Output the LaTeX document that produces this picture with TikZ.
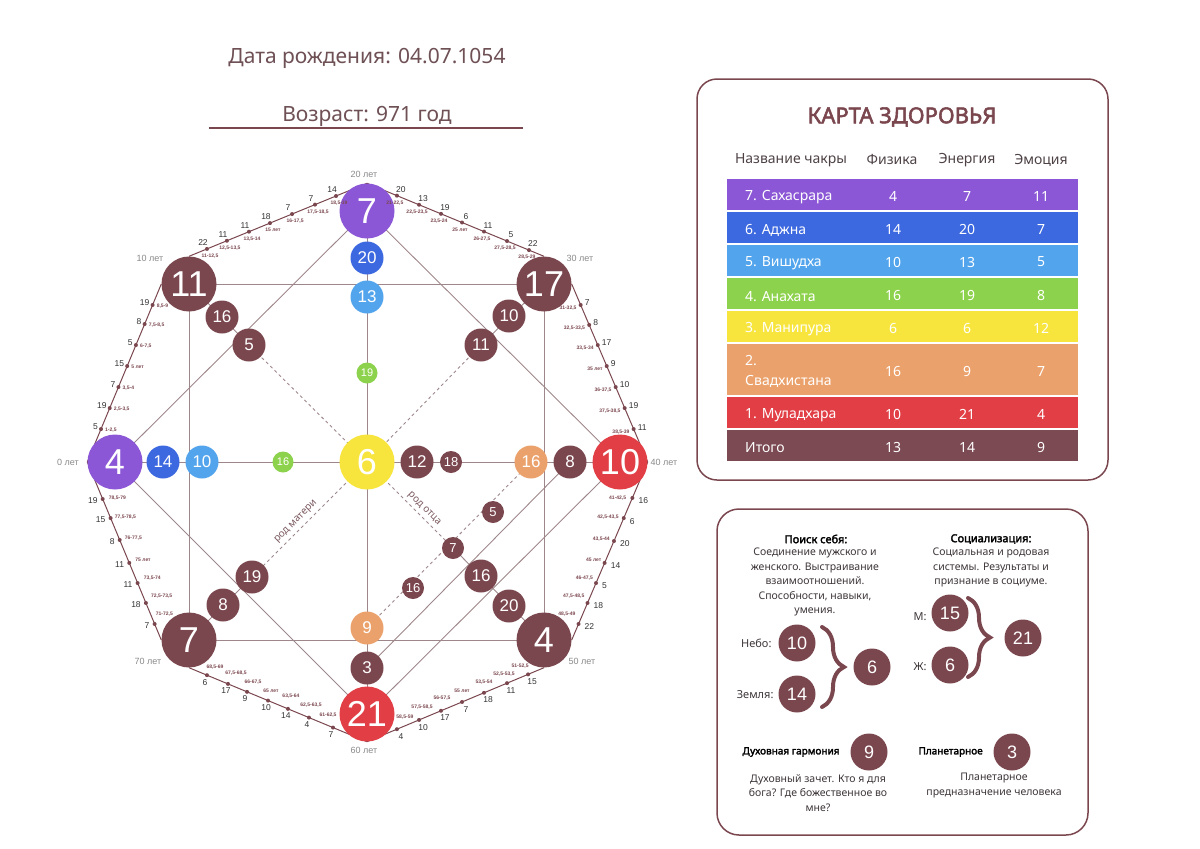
\documentclass[tikz,border=0pt]{standalone}
\usepackage{fontspec}
\setmainfont{Noto Sans}[AutoFakeBold=2.5]
\newfontfamily\numf{Liberation Sans}
\usetikzlibrary{calc,backgrounds,decorations.pathreplacing}
\definecolor{brn}{HTML}{7B474F}
\definecolor{lc}{HTML}{9E878B}
\definecolor{cpur}{HTML}{8B57D6}
\definecolor{cblu}{HTML}{3C68E0}
\definecolor{clbl}{HTML}{52A4EC}
\definecolor{cgrn}{HTML}{8DD24C}
\definecolor{cyel}{HTML}{F7E53E}
\definecolor{corg}{HTML}{EBA16B}
\definecolor{cred}{HTML}{E13E45}
\definecolor{ctot}{HTML}{7B4A52}
\definecolor{numc}{HTML}{333333}
\definecolor{agec}{HTML}{8A8A8A}
\definecolor{txtc}{HTML}{3F3739}
\definecolor{hdrc}{HTML}{4E4245}
\definecolor{ttlc}{HTML}{6E5055}
\definecolor{rodc}{HTML}{7B5A60}

% list items: t / number / range / {range shift}
\newcommand\agedots[7]{%
  \foreach \agT/\agN/\agR/\agS [count=\agI] in {#1}{%
    \coordinate (#7p\agI) at ($(#2)!\agT!(#3)$);
    \fill[brn] (#7p\agI) circle (2pt);
    \node[numlab,anchor=#4] (#7n\agI) at ($(#7p\agI)+(#5)$) {\agN};
    \node[rnglab,anchor=#6] (#7r\agI) at ($(#7p\agI)+(\agS)$) {\agR};
  }}

\begin{document}
\begin{tikzpicture}[x=1pt,y=-1pt,
  bigc/.style={circle,inner sep=0pt,minimum size=55pt,text=white,font=\numf\fontsize{36}{36}\selectfont},
  medc/.style={circle,inner sep=0pt,minimum size=33pt,text=white,font=\numf\fontsize{17}{17}\selectfont},
  smlc/.style={circle,inner sep=0pt,minimum size=22pt,text=white,font=\numf\fontsize{13}{13}\selectfont},
  tinyc/.style={circle,inner sep=0pt,minimum size=21pt,text=white,font=\numf\fontsize{11}{11}\selectfont},
  cardc/.style={circle,inner sep=0pt,minimum size=37pt,fill=brn,text=white,font=\numf\fontsize{18}{18}\selectfont},
  solidl/.style={draw=lc,line width=0.9pt},
  dashl/.style={draw=lc,line width=0.9pt,dash pattern=on 3pt off 3pt},
  edgeln/.style={draw=brn,line width=1pt},
  numlab/.style={font=\numf\fontsize{8.5}{8.5}\selectfont,text=numc,inner sep=0pt},
  rnglab/.style={font=\numf\bfseries\fontsize{5}{5}\selectfont,text=brn,inner sep=0pt},
  agelab/.style={font=\numf\fontsize{9}{9}\selectfont,text=agec},
  rodlab/.style={font=\fontsize{10}{10}\selectfont,text=rodc,inner sep=1pt},
  rowbox/.style={minimum width=351pt,inner sep=0pt,draw=none},
  celltxt/.style={font=\fontsize{14}{20}\selectfont,text=white,inner sep=0pt},
  hdrtxt/.style={font=\fontsize{14}{14}\selectfont,text=hdrc},
  bodytxt/.style={font=\fontsize{10.5}{14.5}\selectfont,text=txtc,align=center},
  boldtxt/.style={font=\bfseries\fontsize{11}{14}\selectfont,text=black},
  boldsm/.style={font=\bfseries\fontsize{10}{12}\selectfont,text=black},
  lbltxt/.style={font=\fontsize{11}{11}\selectfont,text=txtc}
]
\useasboundingbox (0,0) rectangle (1200,849);

% ---------- titles
\node[font=\fontsize{21}{21}\selectfont,text=ttlc] (date) at (367,58) {Дата рождения: 04.07.1054};
\node[font=\fontsize{21}{21}\selectfont,text=ttlc] (age) at (367,116) {Возраст: 971 год};
\coordinate (ul1) at (209,128);
\coordinate (ul2) at (523,128);
\draw[brn,line width=1.5pt] (ul1) -- (ul2);

% ---------- circles
\node[bigc,fill=cpur] (c7T) at (367,211) {7};
\node[medc,fill=cblu] (v20) at (367,258) {20};
\node[medc,fill=clbl] (v13) at (367,297) {13};
\node[tinyc,fill=cgrn] (v19) at (367,373) {19};
\node[bigc,fill=cyel] (c6) at (367,462) {6};
\node[medc,fill=corg] (b9) at (367,628) {9};
\node[medc,fill=brn] (b3) at (367,668) {3};
\node[bigc,fill=cred] (c21) at (367,714) {21};
\node[bigc,fill=cpur] (c4L) at (115,462) {4};
\node[medc,fill=cblu] (h14) at (163,462) {14};
\node[medc,fill=clbl] (h10) at (202,462) {10};
\node[tinyc,fill=cgrn] (h16) at (283,462) {16};
\node[medc,fill=brn] (r12) at (417,462) {12};
\node[smlc,fill=brn] (r18) at (451,462) {18};
\node[medc,fill=corg] (r16) at (531,462) {16};
\node[medc,fill=brn] (r8) at (570,462) {8};
\node[bigc,fill=cred] (c10R) at (620,462) {10};
\node[bigc,fill=brn] (c11) at (189,284) {11};
\node[medc,fill=brn] (d16) at (222,317) {16};
\node[medc,fill=brn] (d5) at (249,345) {5};
\node[bigc,fill=brn] (c17) at (544,284) {17};
\node[medc,fill=brn] (d10) at (509,316) {10};
\node[medc,fill=brn] (d11) at (481,345) {11};
\node[bigc,fill=brn] (c7B) at (189,640) {7};
\node[medc,fill=brn] (d8) at (223,605) {8};
\node[medc,fill=brn] (d19) at (252,577) {19};
\node[bigc,fill=brn] (c4R) at (544,640) {4};
\node[medc,fill=brn] (d20) at (509,606) {20};
\node[medc,fill=brn] (d16b) at (481,576) {16};
\node[smlc,fill=brn] (s7) at (453,548) {7};
\node[smlc,fill=brn] (s5) at (493,512) {5};
\node[smlc,fill=brn] (s16) at (413,588) {16};

% ---------- lines (behind)
\begin{scope}[on background layer]
  \fill[white] (0,0) rectangle (1200,849);
  \draw[solidl] (c11.center) -- (c17.center) -- (c4R.center) -- (c7B.center) -- cycle;
  \draw[solidl] (c7T.center) -- (c10R.center) -- (c21.center) -- (c4L.center) -- cycle;
  \draw[solidl] (c7T.center) -- (c21.center);
  \draw[solidl] (c4L.center) -- (c10R.center);
  \draw[solidl] (c11.center) -- (d5.center);
  \draw[dashl] (d5.center) -- (c6.center);
  \draw[solidl] (c17.center) -- (d11.center);
  \draw[dashl] (d11.center) -- (c6.center);
  \draw[dashl] (c6.center) -- (d19.center);
  \draw[solidl] (d19.center) -- (c7B.center);
  \draw[dashl] (c6.center) -- (s7.center);
  \draw[solidl] (s7.center) -- (c4R.center);
  \draw[solidl] (b3.center) -- (r8.center);
  \draw[dashl] (b9.center) -- (r16.center);
  % outer octagon
  \draw[edgeln] (c4L.west) -- (c11.west);
  \draw[edgeln] (c11.north) -- (c7T.north);
  \draw[edgeln] (c7T.north) -- (c17.north);
  \draw[edgeln] (c17.east) -- (c10R.east);
  \draw[edgeln] (c10R.east) -- (c4R.east);
  \draw[edgeln] (c4R.south) -- (c21.south);
  \draw[edgeln] (c21.south) -- (c7B.south);
  \draw[edgeln] (c7B.west) -- (c4L.west);
\end{scope}

% ---------- age dots
\agedots{0.185/5/{1-2,5}/{4,1},0.303/19/{2,5-3,5}/{4,1},0.421/7/{3,5-4}/{4,1},0.539/15/{5 лет}/{4,1},0.657/5/{6-7,5}/{4,1},0.775/8/{7,5-8,5}/{4,1},0.882/19/{8,5-9}/{4,1}}{c4L.west}{c11.west}{east}{-3,-2}{west}{ea}
\agedots{0.101/22/{11-12,5}/{3,5},0.213/11/{12,5-13,5}/{3,5},0.337/11/{13,5-14}/{3,5},0.455/18/{15 лет}/{3,5},0.579/7/{16-17,5}/{3,5},0.708/7/{17,5-18,5}/{3,5},0.826/14/{18,5-19}/{3,5}}{c11.north}{c7T.north}{south}{-4,-3}{north}{eb}
\agedots{0.169/20/{21-22,5}/{-2,5},0.294/13/{22,5-23,5}/{-2,5},0.418/19/{23,5-24}/{-2,5},0.537/6/{25 лет}/{-2,5},0.661/11/{26-27,5}/{-2,5},0.791/5/{27,5-28,5}/{-2,5},0.915/22/{28,5-29}/{-2,5}}{c7T.north}{c17.north}{south}{4,-3}{north}{ec}
\agedots{0.118/7/{31-32,5}/{-4,3},0.230/8/{32,5-33,5}/{-4,3},0.343/17/{33,5-34}/{-4,3},0.461/9/{35 лет}/{-4,3},0.579/10/{36-37,5}/{-4,3},0.697/19/{37,5-38,5}/{-4,3},0.815/11/{38,5-39}/{-4,3}}{c17.east}{c10R.east}{west}{4,-2}{east}{ed}
\agedots{0.202/16/{41-42,5}/{-6,0},0.315/6/{42,5-43,5}/{-5,-1},0.444/20/{43,5-44}/{-4,-2},0.567/14/{45 лет}/{-3,-3},0.680/5/{46-47,5}/{-3,-5},0.792/18/{47,5-48,5}/{-3,-7},0.910/22/{48,5-49}/{-3,-10}}{c10R.east}{c4R.east}{west}{6,3}{east}{ee}
\agedots{0.090/15/{51-52,5}/{-8,-6},0.209/11/{52,5-53,5}/{-3,-7},0.339/18/{53,5-54}/{0,-8},0.463/7/{55 лет}/{0,-9},0.582/17/{56-57,5}/{1,-10},0.706/10/{57,5-58,5}/{3,-10},0.831/4/{58,5-59}/{8,-10}}{c4R.south}{c21.south}{north}{4,4}{south}{ef}
\agedots{0.191/7/{61-62,5}/{-5,-10},0.326/4/{62,5-63,5}/{2,-10},0.444/14/{63,5-64}/{3,-10},0.556/10/{65 лет}/{3,-8},0.674/9/{66-67,5}/{6,-7},0.781/17/{67,5-68,5}/{8,-8},0.899/6/{68,5-69}/{8,-6}}{c21.south}{c7B.south}{north}{-2,4}{south}{eg}
\agedots{0.090/7/{71-72,5}/{1,-10},0.208/18/{72,5-73,5}/{5,-7},0.320/11/{73,5-74}/{6,-5},0.433/11/{75 лет}/{6,-3},0.562/8/{76-77,5}/{5,-2},0.685/15/{77,5-78,5}/{4,-1},0.792/19/{78,5-79}/{6,-1}}{c7B.west}{c4L.west}{east}{-5,2}{west}{eh}

% ---------- age labels
\node[agelab] (a0) at (68,462) {0 лет};
\node[agelab] (a10) at (150,258) {10 лет};
\node[agelab] (a20) at (364,174) {20 лет};
\node[agelab] (a30) at (580,258) {30 лет};
\node[agelab] (a40) at (664,462) {40 лет};
\node[agelab] (a50) at (582,661) {50 лет};
\node[agelab] (a60) at (364,750) {60 лет};
\node[agelab] (a70) at (148,661) {70 лет};

\node[rodlab,rotate=45] (rodm) at (296,522) {род матери};
\node[rodlab,rotate=-45] (rodo) at (424,509) {род отца};

% ---------- health card
\draw[brn,line width=1.5pt,rounded corners=20pt] (697,79) rectangle (1108,480);
\node[font=\bfseries\fontsize{22}{22}\selectfont,text=brn] (kt) at (902,117) {КАРТА ЗДОРОВЬЯ};
\node[hdrtxt] (hn) at (791,160) {Название чакры};
\node[hdrtxt] (hf) at (892,160) {Физика};
\node[hdrtxt] (he) at (967,160) {Энергия};
\node[hdrtxt] (hm) at (1041,160) {Эмоция};

\node[rowbox,fill=cpur,minimum height=31pt] (row7) at (902.5,194.5) {};
\node[rowbox,fill=cblu,minimum height=31pt] (row6) at (902.5,227.5) {};
\node[rowbox,fill=clbl,minimum height=31pt] (row5) at (902.5,260.5) {};
\node[rowbox,fill=cgrn,minimum height=31pt] (row4) at (902.5,293.5) {};
\node[rowbox,fill=cyel,minimum height=31pt] (row3) at (902.5,326.5) {};
\node[rowbox,fill=corg,minimum height=51pt] (row2) at (902.5,369.5) {};
\node[rowbox,fill=cred,minimum height=31pt] (row1) at (902.5,412.5) {};
\node[rowbox,fill=ctot,minimum height=31pt] (row0) at (902.5,445.5) {};

\node[celltxt,anchor=west] (t7a) at (745,197.5) {7. Сахасрара};
\node[celltxt] (t7b) at (893,196) {4};
\node[celltxt] (t7c) at (967,196) {7};
\node[celltxt] (t7d) at (1041,196) {11};
\node[celltxt,anchor=west] (t6a) at (745,230.5) {6. Аджна};
\node[celltxt] (t6b) at (893,229) {14};
\node[celltxt] (t6c) at (967,229) {20};
\node[celltxt] (t6d) at (1041,229) {7};
\node[celltxt,anchor=west] (t5a) at (745,263.5) {5. Вишудха};
\node[celltxt] (t5b) at (893,262) {10};
\node[celltxt] (t5c) at (967,262) {13};
\node[celltxt] (t5d) at (1041,262) {5};
\node[celltxt,anchor=west] (t4a) at (745,296.5) {4. Анахата};
\node[celltxt] (t4b) at (893,295) {16};
\node[celltxt] (t4c) at (967,295) {19};
\node[celltxt] (t4d) at (1041,295) {8};
\node[celltxt,anchor=west] (t3a) at (745,329.5) {3. Манипура};
\node[celltxt] (t3b) at (893,328) {6};
\node[celltxt] (t3c) at (967,328) {6};
\node[celltxt] (t3d) at (1041,328) {12};
\node[celltxt,anchor=west,align=left] (t2a) at (745,371) {2.\\Свадхистана};
\node[celltxt] (t2b) at (893,371) {16};
\node[celltxt] (t2c) at (967,371) {9};
\node[celltxt] (t2d) at (1041,371) {7};
\node[celltxt,anchor=west] (t1a) at (745,415.5) {1. Муладхара};
\node[celltxt] (t1b) at (893,414) {10};
\node[celltxt] (t1c) at (967,414) {21};
\node[celltxt] (t1d) at (1041,414) {4};
\node[celltxt,anchor=west] (t0a) at (745,447.5) {Итого};
\node[celltxt] (t0b) at (893,447) {13};
\node[celltxt] (t0c) at (967,447) {14};
\node[celltxt] (t0d) at (1041,447) {9};

% ---------- lower card
\draw[brn,line width=1.5pt,rounded corners=22pt] (717,509) rectangle (1088,835);
\node[boldtxt] (ps) at (816,539) {Поиск себя:};
\node[bodytxt] (psb) at (815,582) {Соединение мужского и\\женского. Выстраивание\\взаимоотношений.\\Способности, навыки,\\умения.};
\node[boldtxt] (so) at (991,539) {Социализация:};
\node[bodytxt] (sob) at (991,567.5) {Социальная и родовая\\системы. Результаты и\\признание в социуме.};

\node[cardc] (k10) at (797,643) {10};
\node[cardc] (k14) at (797,694) {14};
\node[cardc] (k6) at (872,667) {6};
\node[lbltxt,anchor=east] (lnebo) at (775,643) {Небо:};
\node[lbltxt,anchor=east] (lzem) at (777,695) {Земля:};
\coordinate (br1a) at (822,627);
\coordinate (br1b) at (822,707);
\draw[brn,line width=4pt,line cap=round,decorate,decoration={brace,amplitude=22pt}] (br1a) -- (br1b);

\node[cardc] (k15) at (950,613) {15};
\node[cardc] (k6b) at (950,665) {6};
\node[cardc] (k21) at (1023,638) {21};
\node[lbltxt,anchor=east] (lm) at (930,617) {М:};
\node[lbltxt,anchor=east] (lz) at (930,667) {Ж:};
\coordinate (br2a) at (968,598);
\coordinate (br2b) at (968,677);
\draw[brn,line width=4pt,line cap=round,decorate,decoration={brace,amplitude=22pt}] (br2a) -- (br2b);

\node[boldsm,anchor=west] (dg) at (739,752) {Духовная гармония};
\node[cardc] (k9) at (869,752) {9};
\node[boldsm,anchor=west] (pl) at (915,752) {Планетарное};
\node[cardc] (k3) at (1012,752) {3};
\node[bodytxt] (dgb) at (818,793) {Духовный зачет. Кто я для\\бога? Где божественное во\\мне?};
\node[bodytxt] (plb) at (994,785.5) {Планетарное\\предназначение человека};
\end{tikzpicture}
\end{document}
